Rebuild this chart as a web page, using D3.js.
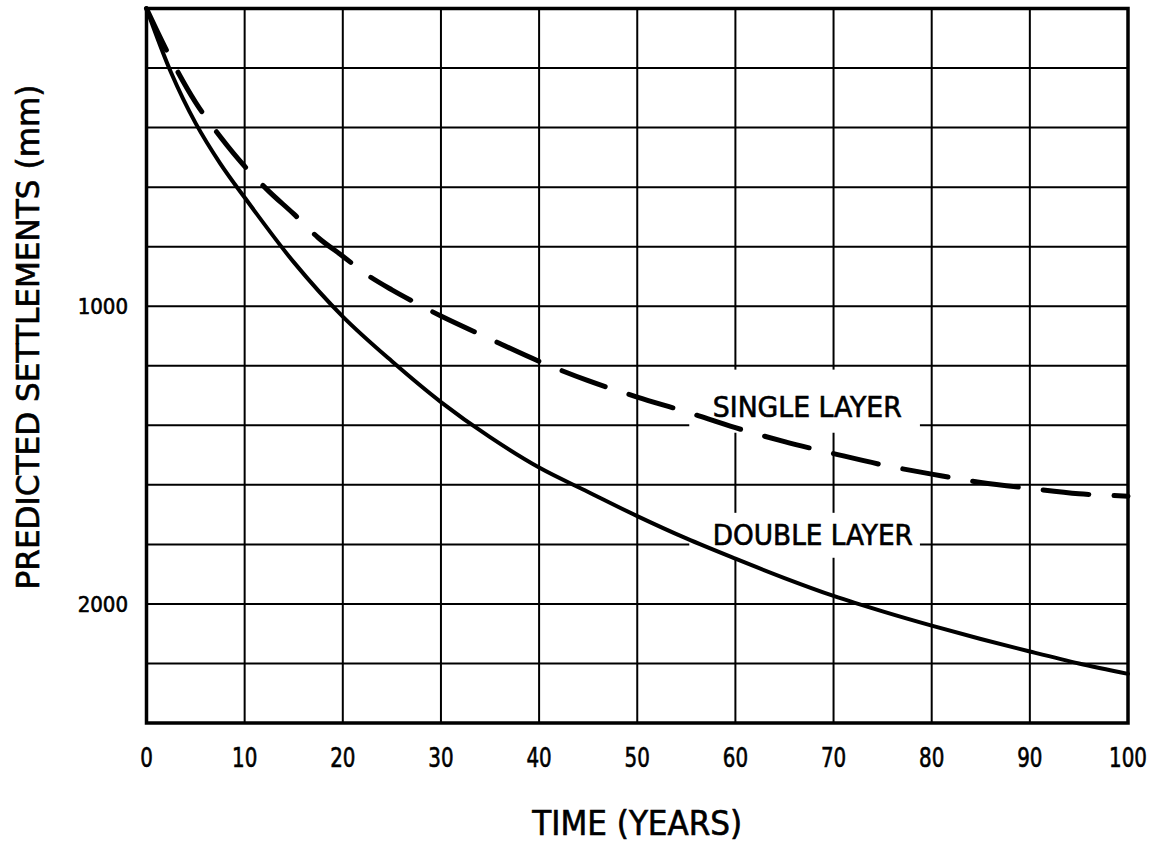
<!DOCTYPE html>
<html>
<head>
<meta charset="utf-8">
<script src="https://cdn.jsdelivr.net/npm/d3@7"></script>
<style>
  html, body { margin: 0; padding: 0; background: #fff; }
  svg { display: block; }
  text { font-family: "DejaVu Sans Condensed", "DejaVu Sans", sans-serif; fill: #000; stroke: #000; stroke-width: 0.6px; }
</style>
</head>
<body>
<svg id="chart" width="1161" height="846"></svg>
<script>
// ---- data ----
const xTicks = [0, 10, 20, 30, 40, 50, 60, 70, 80, 90, 100];
const yGrid = [0, 200, 400, 600, 800, 1000, 1200, 1400, 1600, 1800, 2000, 2200, 2400];
const yTickLabels = [1000, 2000];

const doubleT = [0, 2.5, 5, 7.5, 10, 15, 20, 25, 30, 35, 40, 45, 50, 55, 60, 65, 70, 75, 80, 85, 90, 95, 100];
const doubleV = [0, 215, 385, 520, 635, 852, 1035, 1185, 1322, 1440, 1542, 1624, 1705, 1780, 1848, 1913, 1973, 2025, 2073, 2118, 2160, 2200, 2235];

const singleT = [0, 2.5, 5, 7.5, 10, 12.5, 15, 17.5, 20, 22.5, 25, 27.5, 30, 35, 40, 45, 50, 55, 60, 65, 70, 75, 80, 85, 90, 95, 100];
const singleV = [0, 170, 315, 430, 530, 615, 690, 770, 832, 895, 945, 990, 1033, 1110, 1185, 1250, 1305, 1355, 1408, 1455, 1495, 1533, 1564, 1592, 1612, 1630, 1638];

const labels = [
  { text: "SINGLE LAYER", t: 57.7, v: 1371, box: [55.3, 78.8, 1213, 1425] },
  { text: "DOUBLE LAYER", t: 57.7, v: 1802, box: [55.3, 78.8, 1694, 1845] }
];

// ---- chart ----
const svg = d3.select("#chart");
const x = d3.scaleLinear().domain([0, 100]).range([146.5, 1128]);
const y = d3.scaleLinear().domain([0, 2400]).range([8.5, 723]);

// grid
const grid = svg.append("g");
grid.selectAll("line.v").data(xTicks.slice(1, -1)).join("line")
  .attr("x1", d => x(d)).attr("x2", d => x(d))
  .attr("y1", y(0)).attr("y2", y(2400))
  .attr("stroke", "#000").attr("stroke-width", 2);
grid.selectAll("line.h").data(yGrid.slice(1, -1)).join("line")
  .attr("x1", x(0)).attr("x2", x(100))
  .attr("y1", d => y(d)).attr("y2", d => y(d))
  .attr("stroke", "#000").attr("stroke-width", 2);

// label backgrounds (interrupt grid)
svg.selectAll("rect.lbl").data(labels).join("rect")
  .attr("x", d => x(d.box[0])).attr("y", d => y(d.box[2]))
  .attr("width", d => x(d.box[1]) - x(d.box[0]))
  .attr("height", d => y(d.box[3]) - y(d.box[2]))
  .attr("fill", "#fff");

// curves
const line = d3.line().x(d => x(d[0])).y(d => y(d[1])).curve(d3.curveCatmullRom.alpha(0.5));
svg.append("path")
  .attr("d", line(doubleT.map((t, i) => [t, doubleV[i]])))
  .attr("fill", "none").attr("stroke", "#000").attr("stroke-width", 4)
  .attr("stroke-linecap", "round").attr("stroke-linejoin", "round");
svg.append("path")
  .attr("d", line(singleT.map((t, i) => [t, singleV[i]])))
  .attr("fill", "none").attr("stroke", "#000").attr("stroke-width", 5)
  .attr("stroke-dasharray", "46,25")
  .attr("stroke-linecap", "round").attr("stroke-linejoin", "round");

// frame
svg.append("rect")
  .attr("x", x(0)).attr("y", y(0))
  .attr("width", x(100) - x(0)).attr("height", y(2400) - y(0))
  .attr("fill", "none").attr("stroke", "#000").attr("stroke-width", 3.5);

// x tick labels
svg.selectAll("text.xt").data(xTicks).join("text")
  .attr("x", d => x(d)).attr("y", 767)
  .attr("text-anchor", "middle")
  .attr("font-size", 26)
  .attr("transform", d => `translate(${x(d)},0) scale(0.85,1) translate(${-x(d)},0)`)
  .text(d => d);

// y tick labels
svg.selectAll("text.yt").data(yTickLabels).join("text")
  .attr("x", 128).attr("y", d => y(d))
  .attr("dy", "0.36em")
  .attr("text-anchor", "end")
  .attr("font-size", 22)
  .text(d => d);

// curve labels
svg.selectAll("text.lbl").data(labels).join("text")
  .attr("x", d => x(d.t)).attr("y", d => y(d.v))
  .attr("font-size", 28)
  .attr("textLength", (d, i) => i === 0 ? 189 : 200)
  .attr("lengthAdjust", "spacingAndGlyphs")
  .text(d => d.text);

// axis titles
svg.append("text")
  .attr("x", (x(0) + x(100)) / 2).attr("y", 835)
  .attr("text-anchor", "middle")
  .attr("font-size", 34)
  .attr("textLength", 210).attr("lengthAdjust", "spacingAndGlyphs")
  .text("TIME (YEARS)");

svg.append("text")
  .attr("transform", "translate(39,337) rotate(-90)")
  .attr("text-anchor", "middle")
  .attr("font-size", 32)
  .attr("textLength", 505).attr("lengthAdjust", "spacingAndGlyphs")
  .text("PREDICTED SETTLEMENTS (mm)");
</script>
</body>
</html>
